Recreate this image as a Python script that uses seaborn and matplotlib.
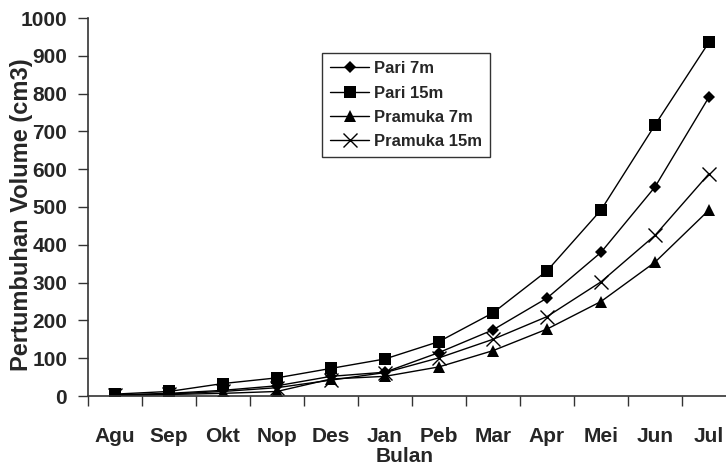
import matplotlib
matplotlib.use("Agg")
import matplotlib.pyplot as plt
import seaborn as sns
import pandas as pd
import numpy as np
from matplotlib.ticker import FixedLocator

months = ["Agu", "Sep", "Okt", "Nop", "Des", "Jan", "Peb", "Mar", "Apr", "Mei", "Jun", "Jul"]
pari_7m = [3, 7, 15, 27, 52, 63, 115, 175, 259, 380, 553, 791]
pari_15m = [5, 12, 33, 48, 73, 98, 144, 220, 331, 492, 717, 936]
pramuka_7m = [2, 4, 7, 12, 45, 52, 77, 120, 177, 250, 354, 492]
pramuka_15m = [2, 5, 12, 22, 42, 62, 101, 150, 210, 302, 425, 588]
series_names = ["Pari 7m", "Pari 15m", "Pramuka 7m", "Pramuka 15m"]
yticks = [0, 100, 200, 300, 400, 500, 600, 700, 800, 900, 1000]

sns.set_theme(style="white")
plt.rcParams['font.family'] = ['Liberation Sans', 'DejaVu Sans']

fig = plt.figure(figsize=(7.26, 4.72), dpi=100)
ax = fig.add_axes([88/726, 1-396/472, 1-88/726, (396-18)/472])

x = np.arange(len(months))
styles = [("D", 6, 0), ("s", 8.5, 0), ("^", 8.5, 0), ("x", 10, 1.0)]
for name, vals, (mk, ms, mew) in zip(series_names, [pari_7m, pari_15m, pramuka_7m, pramuka_15m], styles):
    df = pd.DataFrame({"x": x, "y": vals})
    sns.lineplot(data=df, x="x", y="y", ax=ax, marker=mk, markersize=ms, color="black",
                 linewidth=1.0, label=name, markeredgewidth=mew,
                 markeredgecolor="black", markerfacecolor="black")

ax.set_xlim(-0.5, -0.5 + 638/54.0)
ax.set_ylim(0, 1000)
ax.set_yticks(yticks)
ax.set_yticklabels([str(t) for t in yticks], fontsize=15, fontweight="bold")
ax.set_xticks(x)
ax.set_xticklabels(months, fontsize=15, fontweight="bold")
ax.xaxis.set_minor_locator(FixedLocator(np.arange(-0.5, 12.5, 1.0)))
ax.tick_params(axis="x", which="major", length=0, pad=22)
ax.tick_params(axis="x", which="minor", length=7, width=1.0, color="#333333", direction="out", bottom=True)
ax.tick_params(axis="y", which="major", length=7, width=1.0, color="#333333", direction="out", left=True, pad=8)

for s in ["top", "right"]:
    ax.spines[s].set_visible(False)
for s in ["left", "bottom"]:
    ax.spines[s].set_color("#333333")
    ax.spines[s].set_linewidth(1.2)

ax.set_xlabel("")
ax.set_ylabel("")
fig.text(22/726, 1-215/472, "Pertumbuhan Volume (cm3)", rotation=90, ha="center", va="center",
         fontsize=17, fontweight="bold")
fig.text(405/726, 1-457/472, "Bulan", ha="center", va="center", fontsize=15, fontweight="bold")

leg = ax.legend(loc="upper left", bbox_to_anchor=((322-88)/638, 1-(53-18)/378),
                frameon=True, fancybox=False, edgecolor="#333333", framealpha=1,
                prop={"weight": "bold", "size": 12}, handlelength=2.3, handletextpad=0.3,
                labelspacing=0.55, borderpad=0.5, borderaxespad=0)
leg.get_frame().set_linewidth(1.0)

fig.savefig("out.png", dpi=100)
